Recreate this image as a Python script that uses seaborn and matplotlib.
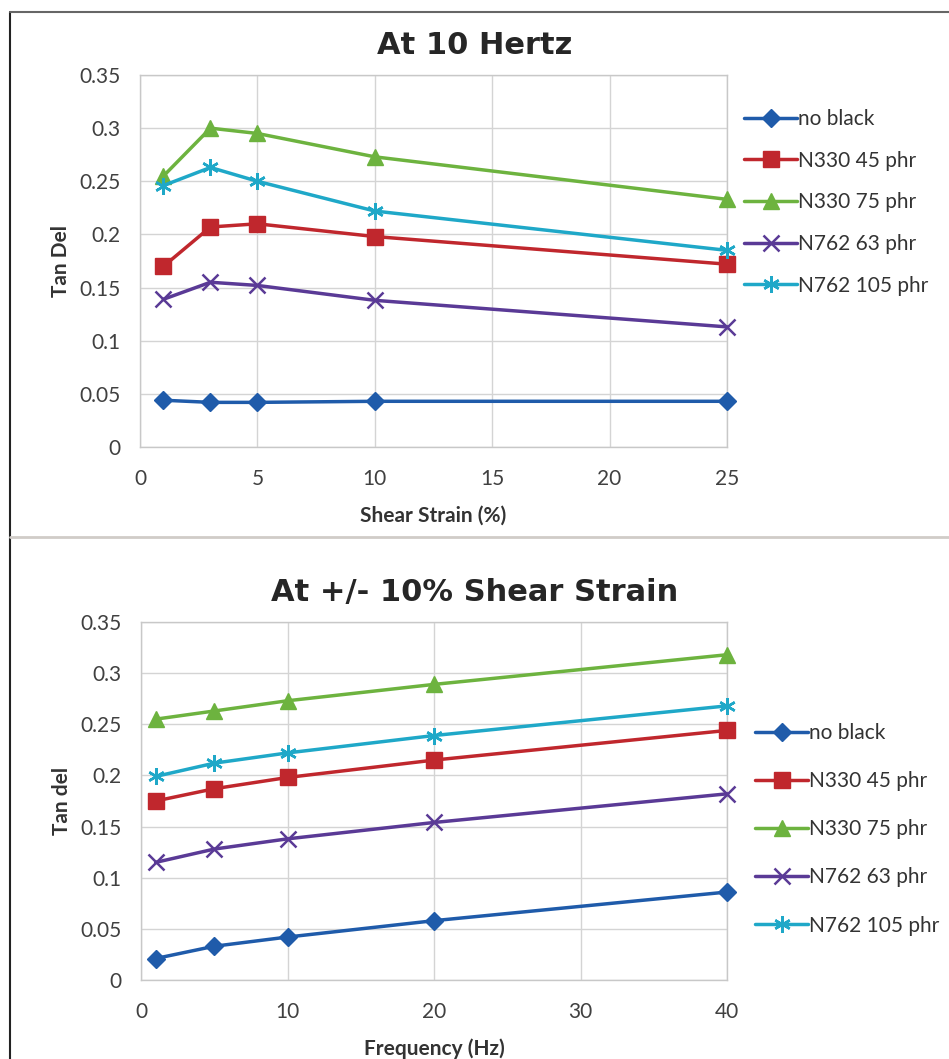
import matplotlib
matplotlib.use("Agg")
import matplotlib.pyplot as plt
from matplotlib.lines import Line2D
import seaborn as sns
import pandas as pd

# ---------------- data ----------------
series_names = ["no black", "N330 45 phr", "N330 75 phr", "N762 63 phr", "N762 105 phr"]

strain_x = [1, 3, 5, 10, 25]
strain_no_black = [0.044, 0.042, 0.042, 0.043, 0.043]
strain_n330_45 = [0.170, 0.207, 0.210, 0.198, 0.172]
strain_n330_75 = [0.255, 0.300, 0.295, 0.273, 0.233]
strain_n762_63 = [0.139, 0.155, 0.152, 0.138, 0.113]
strain_n762_105 = [0.246, 0.263, 0.250, 0.222, 0.185]

freq_x = [1, 5, 10, 20, 40]
freq_no_black = [0.021, 0.033, 0.042, 0.058, 0.086]
freq_n330_45 = [0.175, 0.187, 0.198, 0.215, 0.244]
freq_n330_75 = [0.255, 0.263, 0.273, 0.289, 0.318]
freq_n762_63 = [0.115, 0.128, 0.138, 0.154, 0.182]
freq_n762_105 = [0.199, 0.212, 0.222, 0.239, 0.268]

y_ticks = [0, 0.05, 0.1, 0.15, 0.2, 0.25, 0.3, 0.35]
y_tick_labels = ["0", "0.05", "0.1", "0.15", "0.2", "0.25", "0.3", "0.35"]
strain_ticks = [0, 5, 10, 15, 20, 25]
freq_ticks = [0, 10, 20, 30, 40]

# ---------------- style ----------------
sns.set_theme(style="white")
plt.rcParams["font.family"] = ["Lato", "DejaVu Sans"]

colors = ["#1F5BAA", "#C0272D", "#6DB33F", "#5A3A96", "#1FA8C8"]
markers = ["D", "s", "^", "x", (6, 2, 0)]
msizes = [9, 11, 11, 12, 12]
mews = [1, 1, 1, 1.8, 1.8]

fig = plt.figure(figsize=(9.49, 10.59), dpi=100)
W, H = 949, 1059


def fx(px):
    return px / W


def fy(py):
    return 1 - py / H


def make_panel(rect, xs, ys_list, xticks, xlabel, ylabel, title, title_y,
               leg_xy, leg_spacing):
    ax = fig.add_axes(rect)
    for name, ys, c, m, ms, mw in zip(series_names, ys_list, colors, markers, msizes, mews):
        df = pd.DataFrame({"x": xs, "y": ys})
        sns.lineplot(data=df, x="x", y="y", ax=ax, color=c, marker=m,
                     markersize=ms, markeredgecolor=c, markeredgewidth=mw,
                     linewidth=2.5, label=name, clip_on=False, zorder=3)
    ax.set_ylim(0, 0.35)
    ax.set_xlim(xticks[0], xticks[-1])
    ax.set_yticks(y_ticks)
    ax.set_yticklabels(y_tick_labels)
    ax.set_xticks(xticks)
    ax.grid(True, color="#D4D4D4", linewidth=1)
    for s in ax.spines.values():
        s.set_color("#C8C8C8")
        s.set_linewidth(1)
    ax.tick_params(axis="x", length=0, labelsize=15, colors="#404040", pad=16)
    ax.tick_params(axis="y", length=0, labelsize=15, colors="#404040", pad=14)
    ax.set_xlabel(xlabel, fontsize=15, fontweight="bold", color="#333333", labelpad=12)
    ax.set_ylabel(ylabel, fontsize=15, fontweight="bold", color="#333333", labelpad=6)
    fig.text(fx(475), title_y, title, ha="center", va="center",
             fontsize=22, fontweight="bold", color="#262626",
             family=["DejaVu Sans"])
    leg = ax.legend(loc="upper left", bbox_to_anchor=leg_xy,
                    bbox_transform=fig.transFigure, frameon=False,
                    fontsize=15, handlelength=2.55, handletextpad=0.05,
                    labelspacing=leg_spacing, borderaxespad=0, borderpad=0)
    for t in leg.get_texts():
        t.set_color("#333333")
    return ax


make_panel([fx(140), fy(447), fx(727) - fx(140), fy(75) - fy(447)],
           strain_x,
           [strain_no_black, strain_n330_45, strain_n330_75, strain_n762_63, strain_n762_105],
           strain_ticks, "Shear Strain (%)", "Tan Del", "At 10 Hertz", fy(45),
           (fx(744), fy(109)), 1.04)

make_panel([fx(141), fy(980), fx(727) - fx(141), fy(622) - fy(980)],
           freq_x,
           [freq_no_black, freq_n330_45, freq_n330_75, freq_n762_63, freq_n762_105],
           freq_ticks, "Frequency (Hz)", "Tan del", "At +/- 10% Shear Strain", fy(592),
           (fx(755), fy(723)), 1.35)

# frame decorations
fig.add_artist(Line2D([fx(10), fx(10)], [fy(12), 0], color="#222222", lw=1.5))
fig.add_artist(Line2D([fx(10), 1], [fy(12), fy(12)], color="#666666", lw=1.5))
fig.add_artist(Line2D([fx(10), 1], [fy(537), fy(537)], color="#D0CCC8", lw=2))

fig.savefig("out.png", dpi=100, facecolor="white")
